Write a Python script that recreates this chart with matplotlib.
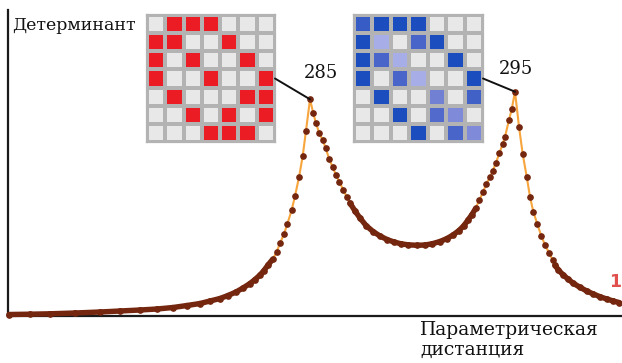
import numpy as np
import matplotlib
matplotlib.use("Agg")
import matplotlib.pyplot as plt
from matplotlib.collections import LineCollection
from matplotlib.colors import LinearSegmentedColormap, ListedColormap
from matplotlib.patches import ConnectionPatch

# ---- data (arbitrary units) ----
param_distance = [1, 22, 42, 67, 92, 112, 132, 149, 165, 179, 192, 202, 212, 220, 228,
                  235, 242, 247, 252, 256, 260, 264.7, 268.7, 272, 276, 279.3, 283.7, 287,
                  291, 294.7, 298, 302, 305.3, 308, 311.3, 314.7, 317.7, 321.3, 324.7, 328,
                  331.3, 335.3, 338.7, 342, 347, 352, 358, 365, 372, 379, 386, 393, 400,
                  409, 417, 424, 432, 439, 445, 451, 456, 460, 464, 467.7, 471.3, 475.3,
                  478, 482, 484.7, 488, 491.3, 494.7, 497, 501, 503.7, 507, 511, 514.7,
                  518.7, 522, 525.3, 529.3, 533.3, 537, 541.3, 544.7, 547, 550.3, 555.3,
                  560.3, 565.3, 572, 578.7, 585.3, 592, 598.7, 605.3, 611]
determinant = [1.5, 1.8, 2.2, 3, 4, 5, 6, 7, 8.5, 10.5, 12.5, 15, 17.5, 20.5, 24,
               28, 32.5, 36.5, 41, 45.5, 51, 56.7, 64.3, 72.7, 82, 92, 106, 120,
               138.7, 160, 185.3, 216.7, 202.7, 192.7, 182.7, 176, 167.7, 156.7, 148.7, 141,
               134.3, 126, 119.3, 113, 105, 98, 90.5, 84.5, 80, 76.5, 74, 72.2, 71.2,
               70.7, 71, 72.2, 74.5, 77.5, 81, 85.5, 90.5, 96, 101.5, 107.7, 116, 124.3,
               131.7, 138.7, 145, 153.3, 162.7, 172, 179.3, 196, 206.7, 224.3, 189.3, 162,
               139.3, 119.3, 104.3, 92, 80, 71, 62.7, 56, 51, 46, 41,
               36.7, 32.7, 28.7, 25, 22, 19.3, 17, 15, 13.5]
peak_labels = ["285", "295"]
peak_index = [31, 75]

red_grid = [[0, 1, 1, 1, 0, 0, 0],
            [1, 1, 0, 0, 1, 0, 0],
            [1, 0, 1, 0, 0, 1, 0],
            [1, 0, 0, 1, 0, 0, 1],
            [0, 1, 0, 0, 0, 1, 1],
            [0, 0, 1, 0, 1, 0, 1],
            [0, 0, 0, 1, 1, 1, 0]]
blue_grid = [[0.85, 1, 1, 1, 0, 0, 0],
             [1, 0.35, 0, 0.75, 1, 0, 0],
             [1, 0.75, 0.35, 0, 0, 1, 0],
             [1, 0, 0.75, 0.35, 0, 0, 1],
             [0, 1, 0, 0, 0.55, 0, 0.8],
             [0, 0, 1, 0, 0.7, 0.5, 0],
             [0, 0, 0, 1, 0, 0.75, 0.5]]

W, H = 622, 363
fig = plt.figure(figsize=(W / 100, H / 100), dpi=100)
fig.patch.set_facecolor("white")

ax = fig.add_axes([8 / W, (H - 316) / H, 614 / W, 306 / H])
ax.set_xlim(0, 614)
ax.set_ylim(0, 306)
for s in ["top", "right"]:
    ax.spines[s].set_visible(False)
for s in ["left", "bottom"]:
    ax.spines[s].set_linewidth(1.6)
    ax.spines[s].set_color("#1a1a1a")
ax.set_xticks([])
ax.set_yticks([])
ax.patch.set_alpha(0)

x = np.array(param_distance, dtype=float)
y = np.array(determinant, dtype=float)

brown = "#74260f"
orange = "#f7a53c"

ax.plot(x, y, color=orange, lw=1.5, zorder=2, clip_on=False)

# where the curve is shallow, the evenly spaced markers overlap into a thick chain
pts = ax.transData.transform(np.column_stack([x, y]))
slope = np.abs(np.diff(pts[:, 1]) / np.diff(pts[:, 0]))
segs = [[(x[i], y[i]), (x[i + 1], y[i + 1])] for i in range(len(x) - 1) if slope[i] < 1.7]
lc = LineCollection(segs, colors=brown, linewidths=3.9, capstyle="round", zorder=3)
lc.set_clip_on(False)
ax.add_collection(lc)

ax.plot(x, y, ls="none", marker="o", ms=3.8, mfc=brown, mec=brown, zorder=4, clip_on=False)

serif = ["DejaVu Serif"]
fig.text(12 / W, 1 - 26 / H, "Детерминант", family=serif, fontsize=12.5,
         ha="left", va="center", color="#111111")
fig.text(420 / W, 1 - 321 / H, "Параметрическая\nдистанция", family=serif, fontsize=13.5,
         ha="left", va="top", color="#111111", linespacing=1.13)
ax.text(607, 34, "1", color="#e0504c", fontsize=12.5, ha="center", va="center",
        family=["DejaVu Sans"], fontweight="bold")


def draw_grid(rect, values, cmap):
    gax = fig.add_axes(rect)
    v = np.array(values, dtype=float)
    gax.pcolormesh(np.arange(8), np.arange(8), v[::-1], cmap=cmap, vmin=0, vmax=1,
                   edgecolors="#b3b3b3", linewidth=1.6)
    gax.set_xlim(0, 7)
    gax.set_ylim(0, 7)
    gax.set_xticks([])
    gax.set_yticks([])
    for s in gax.spines.values():
        s.set_color("#b3b3b3")
        s.set_linewidth(1.6)
    return gax


red_cmap = ListedColormap(["#e8e8e8", "#ec1c24"])
blue_cmap = LinearSegmentedColormap.from_list(
    "bl", [(0, "#e8e8e8"), (0.3, "#b4b8ec"), (0.6, "#6574cf"), (1, "#1c4dbf")])

g1 = draw_grid([147 / W, (H - 142) / H, 128 / W, 127 / H], red_grid, red_cmap)
g2 = draw_grid([354 / W, (H - 142) / H, 129 / W, 127 / H], blue_grid, blue_cmap)

for g, pi, lab, off in zip([g1, g2], peak_index, peak_labels, [(11, 26), (1, 23)]):
    con = ConnectionPatch(xyA=(1, 0.5), coordsA=g.transAxes,
                          xyB=(x[pi], y[pi]), coordsB=ax.transData,
                          color="#111111", lw=1.4, zorder=5)
    fig.add_artist(con)
    ax.annotate(lab, (x[pi], y[pi]), xytext=off, textcoords="offset pixels",
                ha="center", va="center", family=serif, fontsize=13, color="#111111",
                annotation_clip=False)

fig.savefig("out.png", dpi=100, facecolor="white")
